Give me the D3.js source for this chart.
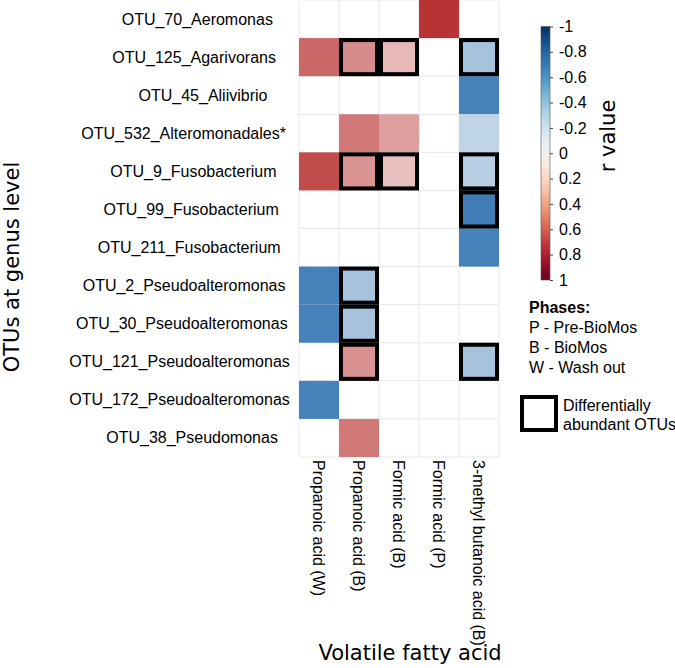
<!DOCTYPE html>
<html>
<head>
<meta charset="utf-8">
<script src="https://cdn.jsdelivr.net/npm/d3@7"></script>
<style>
  body { margin: 0; background: #fff; }
  svg { display: block; }
  .lab { font-family: "Liberation Sans", Arial, sans-serif; font-size: 16px; fill: #000; }
  .title { font-family: "DejaVu Sans", Verdana, sans-serif; font-size: 21px; fill: #000; }
</style>
</head>
<body>
<div id="vis"></div>
<script>
// Frame
const FRAME_WIDTH = 675;
const FRAME_HEIGHT = 668;
const GRID = {left: 299, right: 499, top: 0, bottom: 457};

// Data
const otus = [
  "OTU_70_Aeromonas", "OTU_125_Agarivorans", "OTU_45_Aliivibrio",
  "OTU_532_Alteromonadales*", "OTU_9_Fusobacterium", "OTU_99_Fusobacterium",
  "OTU_211_Fusobacterium", "OTU_2_Pseudoalteromonas", "OTU_30_Pseudoalteromonas",
  "OTU_121_Pseudoalteromonas", "OTU_172_Pseudoalteromonas", "OTU_38_Pseudomonas"
];
const acids = ["Propanoic acid (W)", "Propanoic acid (B)", "Formic acid (B)",
               "Formic acid (P)", "3-methyl butanoic acid (B)"];

// r values per OTU row (null = blank cell)
const rValues = [
  [null,  null,  null,  0.83, null ],
  [0.62,  0.47,  0.29,  null, -0.34],
  [null,  null,  null,  null, -0.70],
  [null,  0.55,  0.39,  null, -0.24],
  [0.73,  0.44,  0.26,  null, -0.27],
  [null,  null,  null,  null, -0.72],
  [null,  null,  null,  null, -0.70],
  [-0.70, -0.34, null,  null, null ],
  [-0.70, -0.34, null,  null, null ],
  [null,  0.45,  null,  null, -0.34],
  [-0.70, null,  null,  null, null ],
  [null,  0.55,  null,  null, null ]
];
// differentially abundant OTUs (black frame)
const diffAbundant = [
  [0, 0, 0, 0, 0],
  [0, 1, 1, 0, 1],
  [0, 0, 0, 0, 0],
  [0, 0, 0, 0, 0],
  [0, 1, 1, 0, 1],
  [0, 0, 0, 0, 1],
  [0, 0, 0, 0, 0],
  [0, 1, 0, 0, 0],
  [0, 1, 0, 0, 0],
  [0, 1, 0, 0, 1],
  [0, 0, 0, 0, 0],
  [0, 0, 0, 0, 0]
];
const rTicks = [-1, -0.8, -0.6, -0.4, -0.2, 0, 0.2, 0.4, 0.6, 0.8, 1];
const phases = ["P - Pre-BioMos", "B - BioMos", "W - Wash out"];

const SVG = d3.select("#vis")
  .append("svg")
    .attr("width", FRAME_WIDTH)
    .attr("height", FRAME_HEIGHT);

// scales
const X_SCALE = d3.scaleBand().domain(acids).range([GRID.left, GRID.right]);
const Y_SCALE = d3.scaleBand().domain(otus).range([GRID.top, GRID.bottom]);
const CELL_COLOR = d3.scaleLinear()
  .domain([-0.75, 0, 0.9])
  .range(["#3A78B5", "#ffffff", "#B22222"])
  .clamp(true);

// flatten to cells
const cells = [];
otus.forEach((o, i) => {
  acids.forEach((a, j) => {
    cells.push({otu: o, acid: a, r: rValues[i][j], diff: diffAbundant[i][j]});
  });
});

// grid lines
const gridG = SVG.append("g").attr("stroke", "#e8e8e8").attr("stroke-width", 1);
gridG.selectAll("line.v")
  .data(acids.concat(["end"]))
  .enter().append("line")
    .attr("x1", (d, i) => GRID.left + i * X_SCALE.bandwidth())
    .attr("x2", (d, i) => GRID.left + i * X_SCALE.bandwidth())
    .attr("y1", GRID.top).attr("y2", GRID.bottom);
gridG.selectAll("line.h")
  .data(otus.concat(["end"]))
  .enter().append("line")
    .attr("y1", (d, i) => GRID.top + i * Y_SCALE.bandwidth())
    .attr("y2", (d, i) => GRID.top + i * Y_SCALE.bandwidth())
    .attr("x1", GRID.left).attr("x2", GRID.right);

// coloured cells
SVG.append("g").selectAll("rect")
  .data(cells.filter(d => d.r !== null))
  .enter().append("rect")
    .attr("x", d => X_SCALE(d.acid))
    .attr("y", d => Y_SCALE(d.otu))
    .attr("width", X_SCALE.bandwidth())
    .attr("height", Y_SCALE.bandwidth())
    .attr("fill", d => CELL_COLOR(d.r));

// black frames
SVG.append("g").selectAll("rect")
  .data(cells.filter(d => d.diff))
  .enter().append("rect")
    .attr("x", d => X_SCALE(d.acid) + 2)
    .attr("y", d => Y_SCALE(d.otu) + 2)
    .attr("width", X_SCALE.bandwidth() - 4)
    .attr("height", Y_SCALE.bandwidth() - 4)
    .attr("fill", "none")
    .attr("stroke", "#000")
    .attr("stroke-width", 4);

// row labels (anchored about 3/4 along their width, as in the figure)
SVG.append("g").selectAll("text")
  .data(otus)
  .enter().append("text")
    .attr("class", "lab")
    .attr("y", d => Y_SCALE(d) + Y_SCALE.bandwidth() / 2 + 5.5)
    .text(d => d)
    .each(function() {
      const w = this.getComputedTextLength();
      d3.select(this).attr("x", 236 - 0.756 * w);
    });

// column labels, rotated
SVG.append("g").selectAll("text")
  .data(acids)
  .enter().append("text")
    .attr("class", "lab")
    .attr("transform", d => "translate(" + (X_SCALE(d) + X_SCALE.bandwidth() / 2 - 5.8) + ",460) rotate(90)")
    .text(d => d);

// axis titles
SVG.append("text")
  .attr("class", "title")
  .attr("x", 410).attr("y", 660)
  .attr("text-anchor", "middle")
  .text("Volatile fatty acid");

SVG.append("text")
  .attr("class", "title")
  .attr("transform", "translate(19,267) rotate(-90)")
  .attr("text-anchor", "middle")
  .text("OTUs at genus level");

// colour bar
const CB_SCALE = d3.scaleLinear().domain([-1, 1]).range([26.5, 280]);
const grad = SVG.append("defs").append("linearGradient")
  .attr("id", "rdbu")
  .attr("x1", 0).attr("x2", 0).attr("y1", 0).attr("y2", 1);
grad.selectAll("stop")
  .data(d3.range(-1, 1.001, 0.05))
  .enter().append("stop")
    .attr("offset", d => (d + 1) / 2)
    .attr("stop-color", d => d3.interpolateRdBu((1 - d) / 2));

SVG.append("rect")
  .attr("x", 541).attr("y", CB_SCALE(-1))
  .attr("width", 9).attr("height", CB_SCALE(1) - CB_SCALE(-1))
  .attr("fill", "url(#rdbu)")
  .attr("stroke", "#555").attr("stroke-width", 0.6);

const cbAxis = SVG.append("g")
  .attr("transform", "translate(550,0)")
  .call(d3.axisRight(CB_SCALE).tickValues(rTicks).tickSizeInner(3).tickSizeOuter(0)
        .tickPadding(6).tickFormat(d => String(d)));
cbAxis.select(".domain").remove();
cbAxis.selectAll("text")
  .attr("class", "lab")
  .attr("font-size", null).attr("font-family", null);
cbAxis.selectAll("line").attr("stroke", "#444");

SVG.append("text")
  .attr("class", "title")
  .attr("transform", "translate(615,136) rotate(-90)")
  .attr("text-anchor", "middle")
  .text("r value");

// phases legend
SVG.append("text")
  .attr("class", "lab")
  .attr("x", 529).attr("y", 313)
  .attr("font-weight", "bold")
  .text("Phases:");
SVG.append("g").selectAll("text")
  .data(phases)
  .enter().append("text")
    .attr("class", "lab")
    .attr("x", 529)
    .attr("y", (d, i) => 333 + i * 20)
    .text(d => d);

// differential abundance key
SVG.append("rect")
  .attr("x", 522).attr("y", 397)
  .attr("width", 34).attr("height", 33)
  .attr("fill", "#fff")
  .attr("stroke", "#000").attr("stroke-width", 4);
SVG.append("text").attr("class", "lab").attr("x", 563).attr("y", 411).text("Differentially");
SVG.append("text").attr("class", "lab").attr("x", 563).attr("y", 430).text("abundant OTUs");
</script>
</body>
</html>
